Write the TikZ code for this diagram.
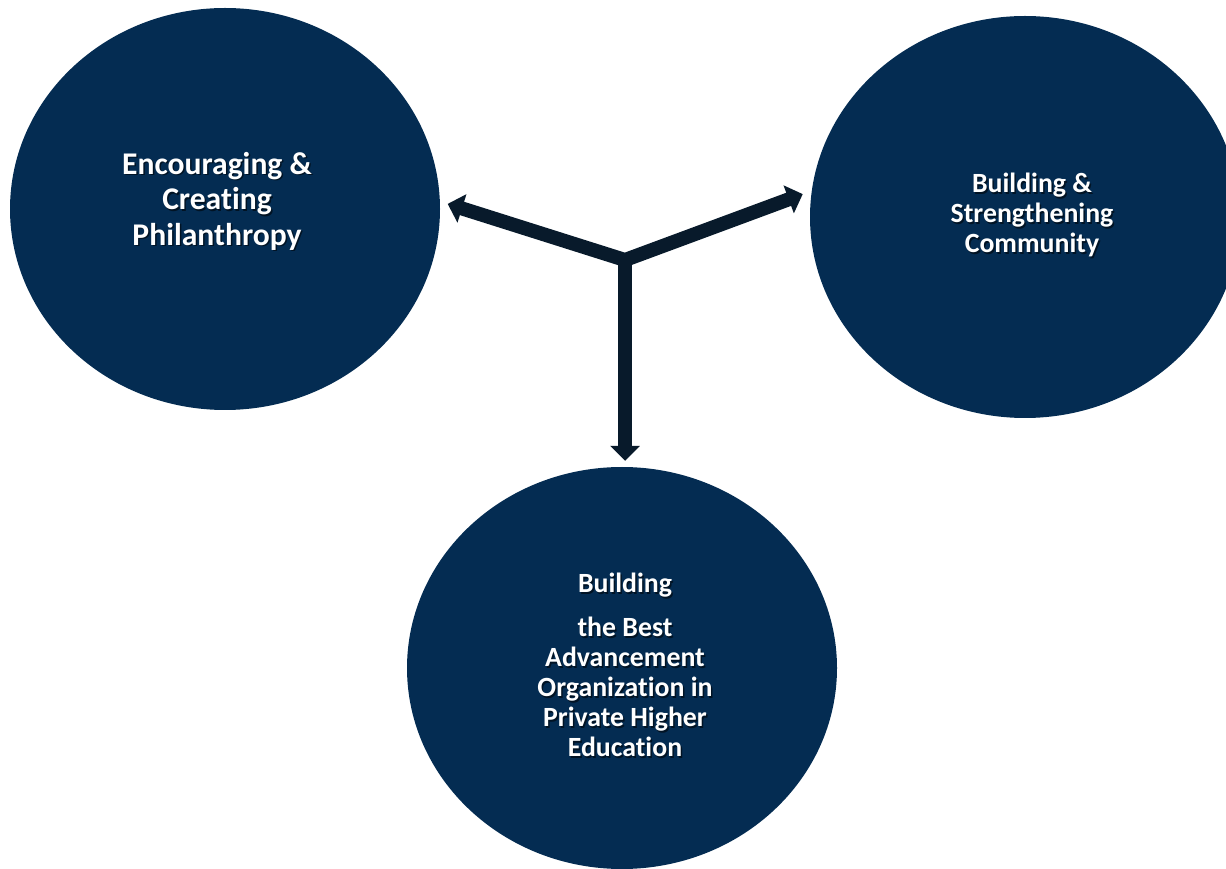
\documentclass[tikz,border=0pt]{standalone}
\usepackage{fontspec}
\setmainfont{Carlito}[Ligatures=NoCommon]
\usepackage{tikz}
\usetikzlibrary{shapes.geometric, arrows.meta}
\definecolor{navy}{HTML}{042C52}
\definecolor{ink}{HTML}{081A2B}

\begin{document}
\begin{tikzpicture}[x=1pt,y=1pt,
    goal/.style={ellipse, fill=navy, minimum width=430pt, minimum height=402pt, inner sep=0pt},
    goaltext/.style={text=white, align=center},
    shade/.style={goaltext, text=black, text opacity=0.55, xshift=1.5pt, yshift=-1.5pt},
    big/.style={font=\bfseries\fontsize{31.6}{35.5}\selectfont},
    small/.style={font=\bfseries\fontsize{27.8}{30}\selectfont},
    arr/.style={draw=ink, line width=14pt, line join=miter,
      arrows={-Triangle[width=29pt,length=15pt]}}]
  \useasboundingbox (0,0) rectangle (1226,868);
  \clip (0,0) rectangle (1226,868);
  \node[goal] (phil) at (225,659) {};
  \node[goal] (comm) at (1025,651) {};
  \node[goal] (edu) at (622,200) {};
  % labels, each with its shadow
  \node[shade, big] (philshd) at (217,667) {Encouraging \&\\Creating\\Philanthropy};
  \node[goaltext, big] (philtxt) at (217,667) {Encouraging \&\\Creating\\Philanthropy};
  \node[shade, small] (commshd) at (1032,653) {Building \&\\Strengthening\\Community};
  \node[goaltext, small] (commtxt) at (1032,653) {Building \&\\Strengthening\\Community};
  \node[shade, small] (edushd) at (625,203)
    {Building\\[14pt]the Best\\Advancement\\Organization in\\Private Higher\\Education};
  \node[goaltext, small] (edutxt) at (625,203)
    {Building\\[14pt]the Best\\Advancement\\Organization in\\Private Higher\\Education};
  % arrows from the hub
  \coordinate (hub) at (625,608);
  \draw[arr, arrows={Triangle[width=29pt,length=15pt]-Triangle[width=29pt,length=15pt]},
    shorten <=8pt, shorten >=9.5pt] (phil.2) -- (hub) -- (comm.173);
  \draw[arr, shorten >=6pt] (hub) -- (hub |- edu.north);
\end{tikzpicture}
\end{document}
